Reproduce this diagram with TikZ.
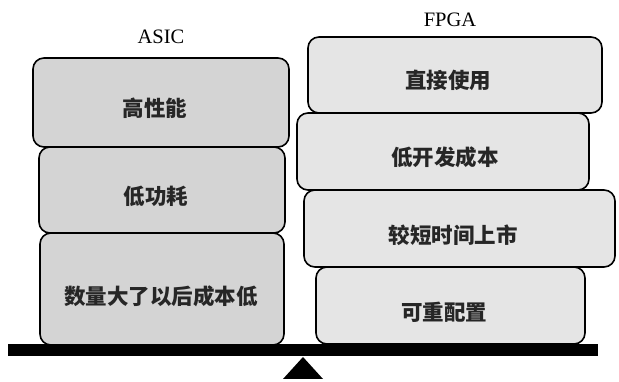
\documentclass[tikz,border=0pt]{standalone}
\usepackage{fontspec}
\setmainfont{Liberation Serif}
\newfontfamily\cjk{Noto Sans CJK SC}
\begin{document}
\begin{tikzpicture}[x=1pt,y=1pt,
  lbox/.style={draw=black,line width=1.6pt,rounded corners=11pt,fill=#1,inner sep=0pt},
  lbl/.style={font=\cjk\bfseries\fontsize{21.5}{24}\selectfont,text=black!85},
  head/.style={font=\fontsize{20.5}{22}\selectfont}]
\useasboundingbox (0,0) rectangle (619,382);
% left stack (ASIC)
\node[lbox=black!17,minimum width=256pt,minimum height=89pt] (l1) at (161,279.5) {};
\node[lbox=black!17,minimum width=246pt,minimum height=86pt] (l2) at (162,192) {};
\node[lbox=black!17,minimum width=244pt,minimum height=112pt] (l3) at (162,93) {};
% right stack (FPGA)
\node[lbox=black!10,minimum width=294pt,minimum height=76pt] (r1) at (455,307) {};
\node[lbox=black!10,minimum width=292pt,minimum height=77pt] (r2) at (443,230.5) {};
\node[lbox=black!10,minimum width=311pt,minimum height=77pt] (r3) at (459.5,153.5) {};
\node[lbox=black!10,minimum width=269pt,minimum height=77pt] (r4) at (450.5,76.5) {};
% texts
\node[lbl] (t1) at (155,274) {高性能};
\node[lbl] (t2) at (156,186) {低功耗};
\node[lbl] (t3) at (161,86) {数量大了以后成本低};
\node[lbl] (t4) at (448,302) {直接使用};
\node[lbl] (t5) at (445,225) {低开发成本};
\node[lbl] (t6) at (453,147) {较短时间上市};
\node[lbl] (t7) at (444,70) {可重配置};
% headings
\node[head] (asic) at (161,345) {ASIC};
\node[head] (fpga) at (450,362) {FPGA};
% beam and fulcrum
\node[fill=black,inner sep=0pt,minimum width=590pt,minimum height=12pt] (beam) at (303,32) {};
\coordinate (apex) at (303,25);
\fill[black] (apex) -- (283,3) -- (323,3) -- cycle;
\end{tikzpicture}
\end{document}
